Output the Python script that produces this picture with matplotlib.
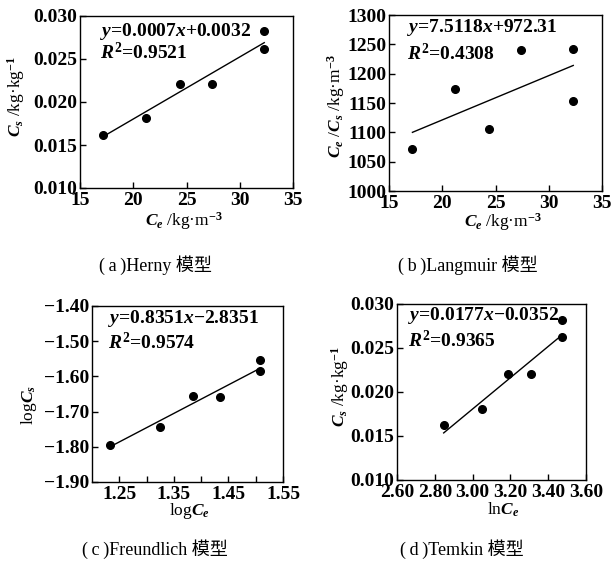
import matplotlib
matplotlib.use('Agg')
import matplotlib.pyplot as plt
from matplotlib.ticker import FixedLocator

plt.rcParams['font.family'] = ['Liberation Serif', 'Noto Sans CJK SC', 'DejaVu Sans']
plt.rcParams['font.weight'] = 'bold'
plt.rcParams['mathtext.fontset'] = 'custom'
plt.rcParams['mathtext.rm'] = 'Liberation Serif:bold'
plt.rcParams['mathtext.it'] = 'Liberation Serif:italic:bold'
plt.rcParams['mathtext.bf'] = 'Liberation Serif:bold'

# (a) Henry
ce = [17.2, 21.2, 24.35, 27.35, 32.3, 32.3]
cs = [0.0162, 0.0181, 0.0221, 0.0221, 0.0282, 0.0262]
fit_a_x = [17.2, 32.3]
fit_a_y = [0.0160, 0.0269]

# (b) Langmuir
ce_cs = [1072, 1174, 1105, 1240, 1242, 1154]
fit_b_x = [17.2, 32.3]
fit_b_y = [1100, 1214]

# (c) Freundlich
log_ce = [1.233, 1.325, 1.385, 1.435, 1.508, 1.508]
log_cs = [-1.796, -1.745, -1.656, -1.658, -1.552, -1.586]
fit_c_x = [1.233, 1.508]
fit_c_y = [-1.800, -1.577]

# (d) Temkin
ln_ce = [2.847, 3.049, 3.188, 3.308, 3.472, 3.472]
fit_d_x = [2.847, 3.467]
fit_d_y = [0.01535, 0.02637]

eqs = [r'$y$=0.0007$x$+0.0032', r'$y$=7.5118$x$+972.31',
       r'$y$=0.8351$x$−2.8351', r'$y$=0.0177$x$−0.0352']
r2s = [r'$R^2$=0.9521', r'$R^2$=0.4308', r'$R^2$=0.9574', r'$R^2$=0.9365']
captions = ['(\u2009a\u2009)Herny 模型', '(\u2009b\u2009)Langmuir 模型',
            '(\u2009c\u2009)Freundlich 模型', '(\u2009d\u2009)Temkin 模型']

W, H = 613, 563
fig = plt.figure(figsize=(W / 100, H / 100), dpi=100)


def box(l, t, r, b):
    return [l / W, 1 - b / H, (r - l) / W, (b - t) / H]


axa = fig.add_axes(box(80, 16, 293, 188))
axb = fig.add_axes(box(389, 15, 602, 191))
axc = fig.add_axes(box(92, 306, 283, 482))
axd = fig.add_axes(box(397, 304, 586, 480))

fs = 14
lfs = 12.5


def style(ax):
    ax.tick_params(direction='in', length=4, width=1, labelsize=fs)
    ax.tick_params(axis='x', pad=3)
    ax.tick_params(axis='y', pad=2)
    ax.tick_params(which='minor', direction='in', length=4, width=1)
    for s in ax.spines.values():
        s.set_linewidth(1)


def draw(ax, x, y, fx, fy):
    ax.plot(fx, fy, color='black', lw=1)
    ax.plot(x, y, 'o', color='black', ms=5.5)


# a
draw(axa, ce, cs, fit_a_x, fit_a_y)
axa.set_xlim(15, 35)
axa.set_ylim(0.010, 0.030)
axa.set_xticks([15, 20, 25, 30, 35])
axa.set_yticks([0.010, 0.015, 0.020, 0.025, 0.030])
axa.set_yticklabels(['0.010', '0.015', '0.020', '0.025', '0.030'])
axa.set_xlabel(r'$C_e$ /kg·m$^{-3}$', fontsize=lfs)
axa.set_ylabel(r'$C_s$ /kg·kg$^{-1}$', fontsize=lfs)

# b
draw(axb, ce, ce_cs, fit_b_x, fit_b_y)
axb.set_xlim(15, 35)
axb.set_ylim(1000, 1300)
axb.set_xticks([15, 20, 25, 30, 35])
axb.set_yticks([1000, 1050, 1100, 1150, 1200, 1250, 1300])
axb.set_xlabel(r'$C_e$ /kg·m$^{-3}$', fontsize=lfs)
axb.set_ylabel(r'$C_e$ /$C_s$ /kg·m$^{-3}$', fontsize=lfs)

# c
draw(axc, log_ce, log_cs, fit_c_x, fit_c_y)
axc.set_xlim(1.20, 1.55)
axc.set_ylim(-1.90, -1.40)
axc.set_xticks([1.25, 1.35, 1.45, 1.55])
axc.set_xticklabels(['1.25', '1.35', '1.45', '1.55'])
axc.xaxis.set_minor_locator(FixedLocator([1.30, 1.40, 1.50]))
axc.set_yticks([-1.90, -1.80, -1.70, -1.60, -1.50, -1.40])
axc.set_yticklabels(['−1.90', '−1.80', '−1.70', '−1.60', '−1.50', '−1.40'])
axc.set_xlabel(r'log$C_e$', fontsize=lfs)
axc.set_ylabel(r'log$C_s$', fontsize=lfs)

# d
draw(axd, ln_ce, cs, fit_d_x, fit_d_y)
axd.set_xlim(2.60, 3.60)
axd.set_ylim(0.010, 0.030)
axd.set_xticks([2.6, 2.8, 3.0, 3.2, 3.4, 3.6])
axd.set_xticklabels(['2.60', '2.80', '3.00', '3.20', '3.40', '3.60'])
axd.set_yticks([0.010, 0.015, 0.020, 0.025, 0.030])
axd.set_yticklabels(['0.010', '0.015', '0.020', '0.025', '0.030'])
axd.set_xlabel(r'ln$C_e$', fontsize=lfs)
axd.set_ylabel(r'$C_s$ /kg·kg$^{-1}$', fontsize=lfs)

axes = [axa, axb, axc, axd]
eq_pos = [(0.094, 0.907, 0.785), (0.085, 0.93, 0.784), (0.084, 0.93, 0.79), (0.058, 0.937, 0.795)]
ylab_pos = [(-0.30, 0.53), (-0.25, 0.48), (-0.33, 0.44), (-0.30, 0.53)]
xlab_pos = [(0.49, -0.19), (0.535, -0.175), (0.51, -0.165), (0.56, -0.17)]
cap_pos = [(155, 265), (468, 265), (155, 549), (462, 549)]

for i, ax in enumerate(axes):
    style(ax)
    ex, ey1, ey2 = eq_pos[i]
    ax.text(ex, ey1, eqs[i], transform=ax.transAxes, fontsize=fs, va='center', ha='left')
    ax.text(ex, ey2, r2s[i], transform=ax.transAxes, fontsize=fs, va='center', ha='left')
    ax.yaxis.set_label_coords(*ylab_pos[i])
    ax.yaxis.label.set_va('center')
    ax.xaxis.set_label_coords(*xlab_pos[i])
    ax.xaxis.label.set_va('center')
    cx, cy = cap_pos[i]
    fig.text(cx / W, 1 - cy / H, captions[i], fontsize=13, fontweight='normal',
             ha='center', va='center')

fig.savefig('out.png', dpi=100)
